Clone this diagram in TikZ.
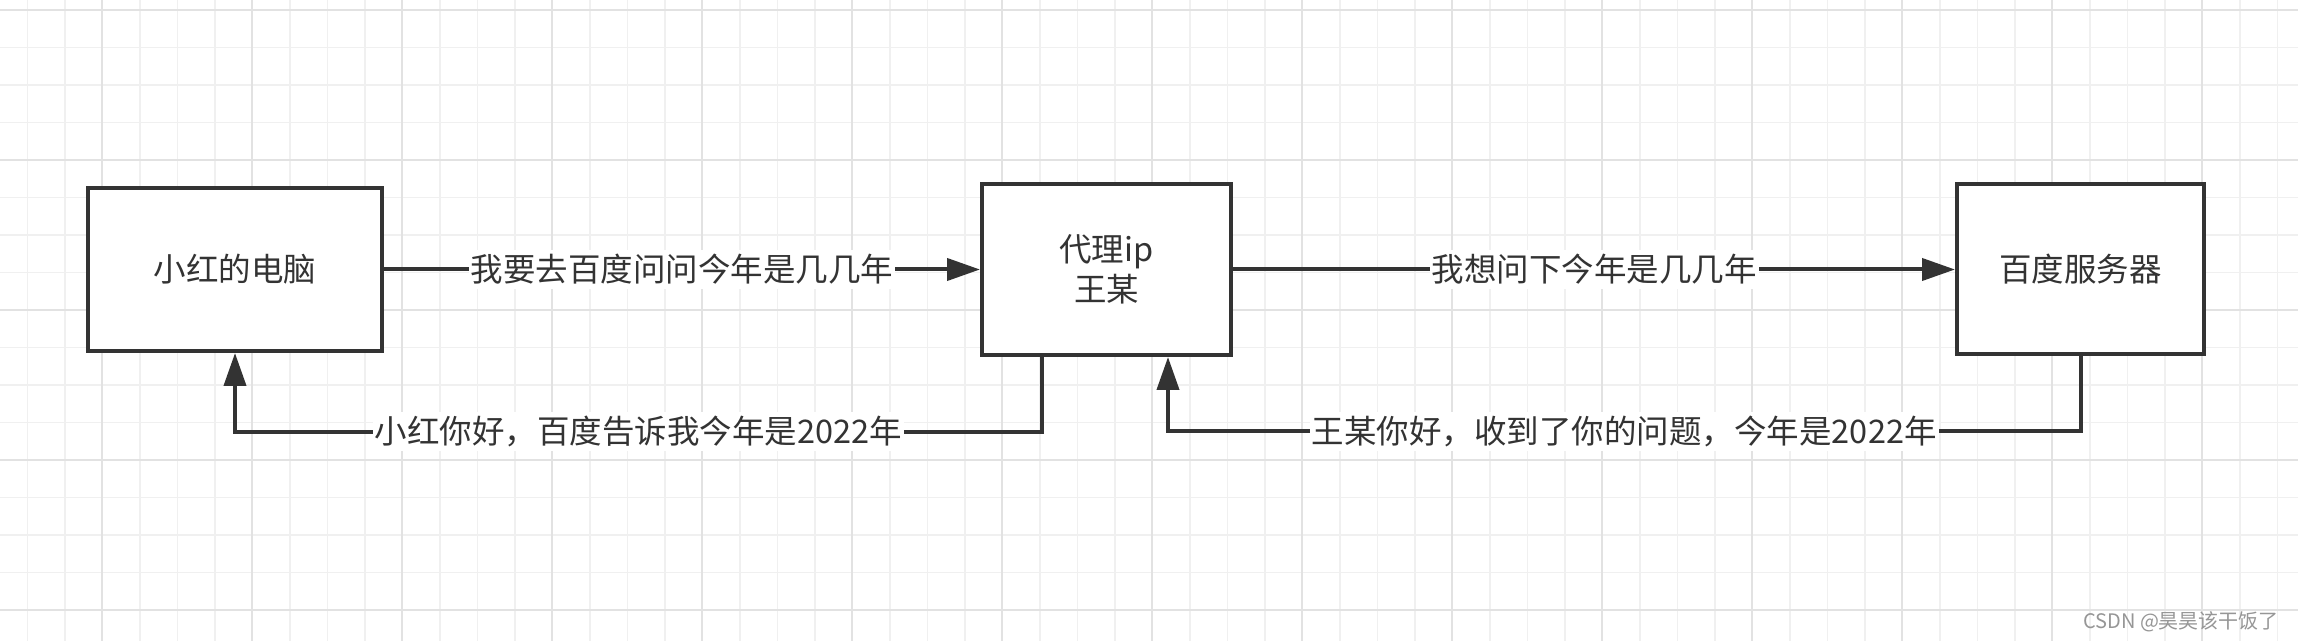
\documentclass[tikz,border=0pt]{standalone}
\usepackage{fontspec}
\setmainfont{Noto Sans CJK SC}
\usepackage{tikz}
\usetikzlibrary{arrows.meta, positioning}
\definecolor{inkgray}{RGB}{51, 51, 51}
\definecolor{gridminor}{RGB}{240, 240, 240}
\definecolor{gridmajor}{RGB}{226, 226, 226}
\definecolor{markgray}{RGB}{150, 150, 150}

\begin{document}
\begin{tikzpicture}[
    x=0.5pt, y=-0.5pt,
    box/.style={draw=inkgray, line width=2pt, fill=white, align=center,
                text=inkgray, font=\fontsize{16.25pt}{20pt}\selectfont},
    lbl/.style={fill=white, text=inkgray, inner xsep=1pt, inner ysep=2pt,
                font=\fontsize{16.25pt}{20pt}\selectfont},
    arrow/.style={-{Triangle[length=16.5pt, width=11pt]}, line width=2pt,
                  draw=inkgray},
]
    \fill[white] (0,0) rectangle (2298,641);
    \useasboundingbox (0,0) rectangle (2298,641);
    % background grid
    \foreach \gx in {0,...,60}
        \draw[gridminor, line width=0.8pt] ({27.3+37.5*\gx},0) -- ++(0,641);
    \foreach \gy in {0,...,16}
        \draw[gridminor, line width=0.8pt] (0,{10+37.5*\gy}) -- ++(2298,0);
    \foreach \gx in {0,...,14}
        \draw[gridmajor, line width=1pt] ({102.3+150*\gx},0) -- ++(0,641);
    \foreach \gy in {0,...,4}
        \draw[gridmajor, line width=1pt] (0,{10+150*\gy}) -- ++(2298,0);

    \node[box, minimum width=147pt, minimum height=81.5pt] (pc) at (235,269.5)
        {小红的电脑};
    \node[box, minimum width=124.5pt, minimum height=85.5pt,
          right=298pt of pc] (proxy) {代理ip\\王某};
    \node[box, minimum width=123.5pt, minimum height=85pt,
          right=361pt of proxy] (baidu) {百度服务器};

    \draw[arrow] (pc) -- node[lbl]{我要去百度问问今年是几几年} (proxy);
    \draw[arrow] (proxy) -- node[lbl]{我想问下今年是几几年} (baidu);
    \draw[arrow] ([xshift=-32.5pt]proxy.south) -- ++(0pt,-37.35pt)
        -| node[lbl, pos=0.25]{小红你好，百度告诉我今年是2022年} (pc.south);
    \draw[arrow] (baidu.south) -- ++(0pt,-37.35pt)
        -| node[lbl, pos=0.25]{王某你好，收到了你的问题，今年是2022年}
        ([xshift=30.75pt]proxy.south);

    \node[text=markgray, font=\fontsize{10pt}{12pt}\selectfont, anchor=east]
        (wmark) at (2286,622) {CSDN @昊昊该干饭了};
\end{tikzpicture}
\end{document}
